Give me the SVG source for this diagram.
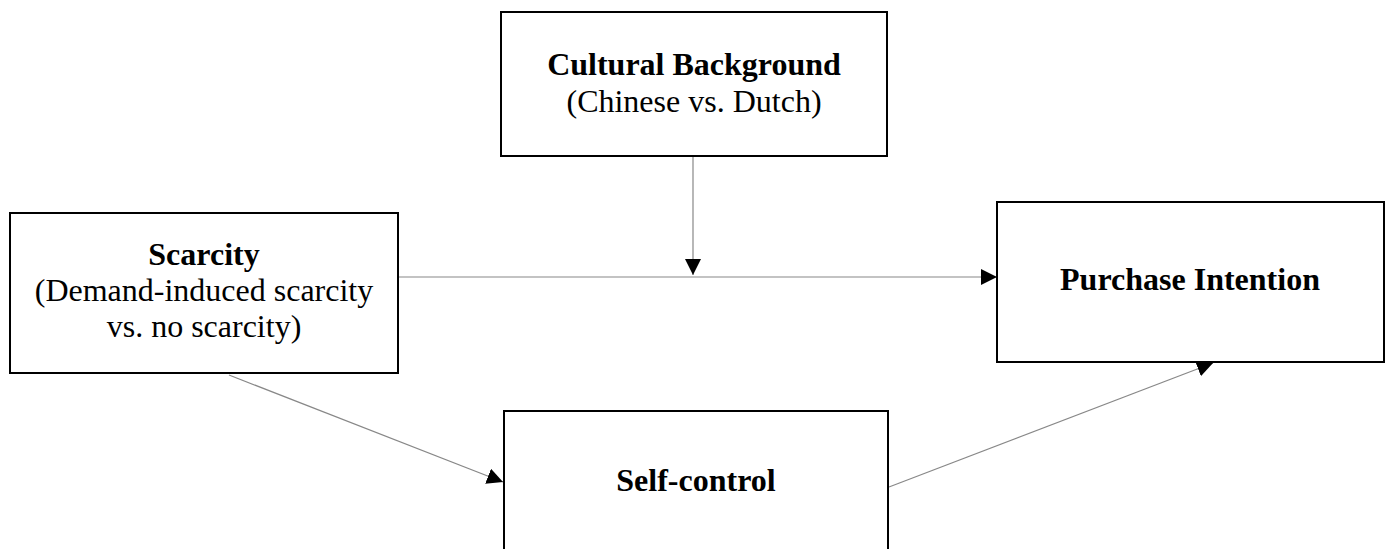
<svg xmlns="http://www.w3.org/2000/svg" width="1389" height="549" viewBox="0 0 1389 549">
<style>
.box{fill:#fff;stroke:#000;stroke-width:2}
.t{font-family:"Liberation Serif","Times New Roman",serif;font-size:32px;fill:#000;text-anchor:middle}
.b{font-weight:bold}
.c{stroke:#888;stroke-width:1.2;fill:none;marker-end:url(#ah)}
</style>
<defs>
<marker id="ah" markerUnits="userSpaceOnUse" markerWidth="16" markerHeight="16" refX="15" refY="7.5" orient="auto" viewBox="0 0 15 15">
<path d="M0,0 L15,7.5 L0,15 Z" fill="#000"/>
</marker>
</defs>
<rect width="1389" height="549" fill="#fff"/>
<g id="connectors">
<line class="c" x1="398" y1="277" x2="997" y2="277"/>
<line class="c" x1="693" y1="157" x2="693" y2="275"/>
<line class="c" x1="229" y1="375" x2="503" y2="482"/>
<line class="c" x1="889" y1="487" x2="1213" y2="363"/>
</g>
<g id="cultural">
<rect class="box" x="501" y="12" width="386" height="144"/>
<text class="t b" x="694" y="75">Cultural Background</text>
<text class="t" x="694" y="112">(Chinese vs. Dutch)</text>
</g>
<g id="scarcity">
<rect class="box" x="10" y="213" width="388" height="160"/>
<text class="t b" x="204" y="265">Scarcity</text>
<text class="t" x="204" y="301">(Demand-induced scarcity</text>
<text class="t" x="204" y="337">vs. no scarcity)</text>
</g>
<g id="purchase">
<rect class="box" x="997" y="202" width="387" height="160"/>
<text class="t b" x="1190" y="290">Purchase Intention</text>
</g>
<g id="selfcontrol">
<rect class="box" x="504" y="411" width="384" height="160"/>
<text class="t b" x="696" y="491">Self-control</text>
</g>
</svg>
